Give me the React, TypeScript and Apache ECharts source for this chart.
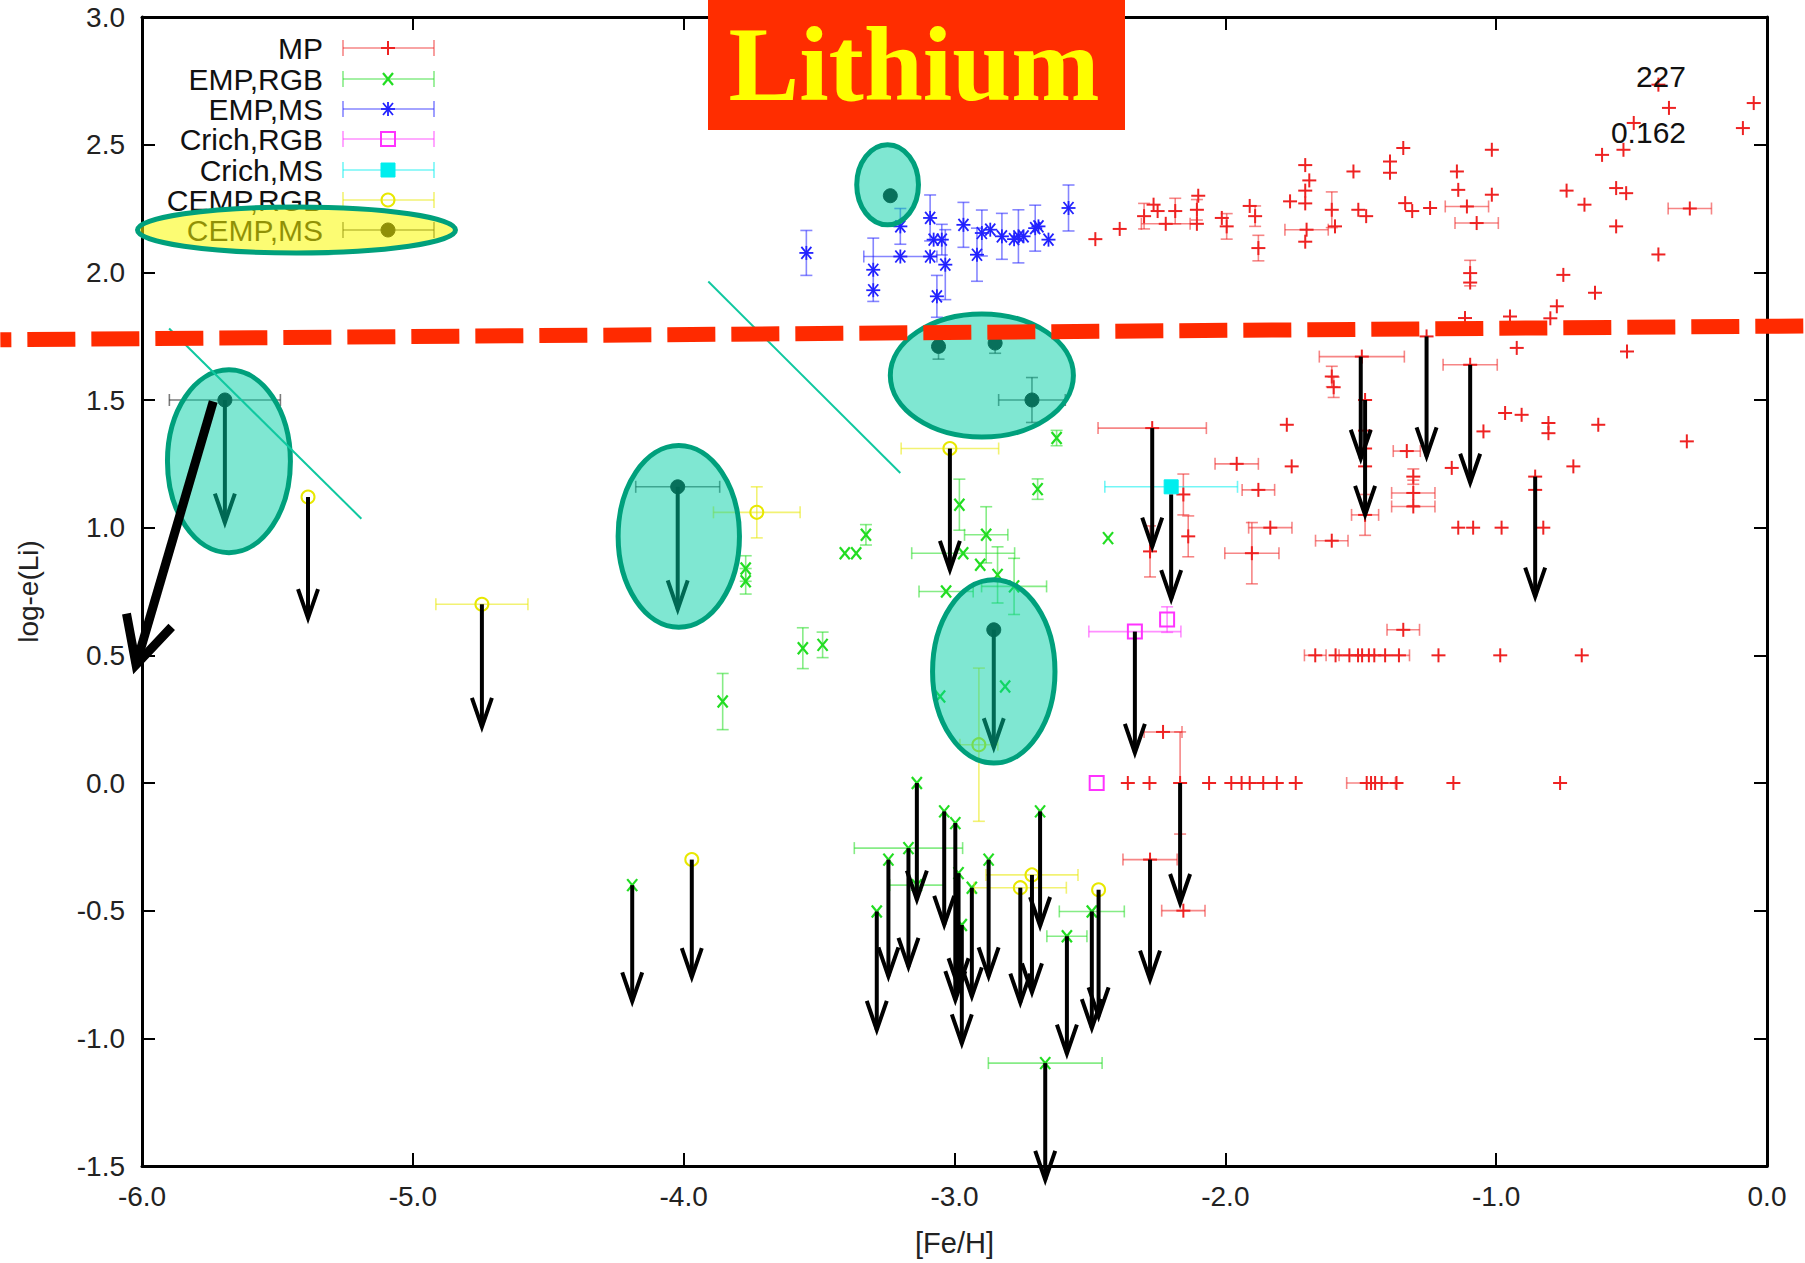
import React, { useEffect, useRef } from 'react';
import * as echarts from 'echarts';

// ---------- data ----------
const seriesNames = ['MP', 'EMP,RGB', 'EMP,MS', 'Crich,RGB', 'Crich,MS', 'CEMP,RGB', 'CEMP,MS'];
const seriesColors = ['#ee2222', '#22dd22', '#2222ff', '#ff33ff', '#00eeee', '#e8e800', '#111111'];
const seriesShapes = ['plus', 'cross', 'star', 'square', 'fsquare', 'circle', 'fcircle'];

const xTickValues = [-6, -5, -4, -3, -2, -1, 0];
const yTickValues = [-1.5, -1, -0.5, 0, 0.5, 1, 1.5, 2, 2.5, 3];

// [Fe/H], log-e(Li), xerr, yerr
const mpData = [
  [-2.48, 2.13, 0, 0], [-2.39, 2.17, 0, 0], [-2.30, 2.22, 0, 0.05], [-2.265, 2.265, 0, 0], [-2.25, 2.24, 0, 0],
  [-2.185, 2.24, 0, 0.05], [-2.22, 2.19, 0.09, 0], [-2.10, 2.30, 0, 0], [-2.105, 2.245, 0, 0.04], [-2.105, 2.19, 0, 0],
  [-2.013, 2.213, 0, 0], [-1.995, 2.18, 0, 0.05], [-1.91, 2.26, 0, 0], [-1.89, 2.22, 0, 0.04], [-1.878, 2.095, 0, 0.05],
  [-1.761, 2.278, 0, 0], [-1.705, 2.42, 0, 0], [-1.69, 2.36, 0, 0], [-1.705, 2.32, 0, 0], [-1.705, 2.27, 0, 0],
  [-1.70, 2.167, 0.08, 0], [-1.705, 2.12, 0, 0], [-1.607, 2.245, 0, 0.07], [-1.595, 2.18, 0, 0], [-1.527, 2.395, 0, 0],
  [-1.509, 2.245, 0, 0], [-1.48, 2.22, 0, 0], [-1.392, 2.434, 0, 0], [-1.392, 2.39, 0, 0], [-1.343, 2.487, 0, 0],
  [-1.336, 2.271, 0, 0], [-1.31, 2.24, 0, 0], [-1.244, 2.252, 0, 0], [-1.145, 2.395, 0, 0], [-1.14, 2.323, 0, 0],
  [-1.108, 2.258, 0.08, 0], [-1.072, 2.193, 0.08, 0], [-1.016, 2.48, 0, 0], [-1.016, 2.304, 0, 0], [-1.096, 1.997, 0, 0.05],
  [-1.096, 1.96, 0, 0], [-1.115, 1.821, 0, 0], [-0.949, 1.827, 0, 0], [-0.924, 1.704, 0, 0], [-0.776, 1.867, 0, 0],
  [-0.80, 1.82, 0, 0], [-0.752, 1.99, 0, 0], [-0.74, 2.32, 0, 0], [-0.674, 2.265, 0, 0], [-0.609, 2.46, 0, 0],
  [-0.53, 2.48, 0, 0], [-0.557, 2.33, 0, 0], [-0.52, 2.31, 0, 0], [-0.557, 2.18, 0, 0], [-0.492, 2.585, 0, 0],
  [-0.401, 2.735, 0, 0], [-0.362, 2.644, 0, 0], [-0.401, 2.07, 0, 0], [-0.285, 2.25, 0.08, 0], [-0.049, 2.663, 0, 0],
  [-0.089, 2.565, 0, 0], [-0.635, 1.92, 0, 0], [-0.517, 1.69, 0, 0], [-0.296, 1.338, 0, 0],
  [-1.496, 1.67, 0.157, 0], [-1.257, 1.749, 0, 0], [-1.096, 1.638, 0.1, 0], [-1.607, 1.592, 0, 0.04], [-1.60, 1.55, 0, 0.04],
  [-1.773, 1.403, 0, 0], [-1.755, 1.24, 0, 0], [-1.958, 1.25, 0.08, 0], [-1.878, 1.148, 0.06, 0], [-1.834, 1.0, 0.08, 0],
  [-1.902, 0.90, 0.10, 0.12], [-1.607, 0.949, 0.06, 0], [-1.484, 1.05, 0.05, 0.08], [-1.484, 1.50, 0, 0], [-1.484, 1.38, 0, 0],
  [-1.484, 1.31, 0, 0], [-1.484, 1.24, 0, 0], [-1.33, 1.30, 0.05, 0], [-1.306, 1.20, 0, 0.03], [-1.306, 1.136, 0.08, 0.05],
  [-1.306, 1.083, 0.08, 0], [-2.27, 1.39, 0.2, 0], [-2.155, 1.13, 0, 0.08], [-2.137, 0.966, 0, 0.08], [-2.278, 0.907, 0, 0.1],
  [-1.164, 1.234, 0, 0], [-1.047, 1.377, 0, 0], [-0.967, 1.449, 0, 0], [-0.906, 1.442, 0, 0], [-0.807, 1.41, 0, 0],
  [-0.807, 1.37, 0, 0], [-0.623, 1.403, 0, 0], [-0.715, 1.24, 0, 0], [-0.856, 1.20, 0, 0], [-0.856, 1.148, 0, 0],
  [-1.14, 1.0, 0, 0], [-1.085, 1.0, 0, 0], [-0.98, 1.0, 0, 0], [-0.826, 1.0, 0, 0],
  [-1.668, 0.5, 0.04, 0], [-1.593, 0.5, 0, 0], [-1.542, 0.5, 0, 0], [-1.51, 0.5, 0, 0], [-1.495, 0.5, 0, 0],
  [-1.47, 0.5, 0, 0], [-1.45, 0.5, 0.13, 0], [-1.41, 0.5, 0, 0], [-1.359, 0.5, 0, 0], [-1.213, 0.5, 0, 0],
  [-0.985, 0.5, 0, 0], [-0.684, 0.5, 0, 0], [-1.343, 0.60, 0.06, 0],
  [-2.36, 0, 0, 0], [-2.28, 0, 0, 0], [-2.167, 0, 0, 0.2], [-2.06, 0, 0, 0], [-1.978, 0, 0, 0],
  [-1.94, 0, 0, 0], [-1.91, 0, 0, 0], [-1.86, 0, 0, 0], [-1.81, 0, 0, 0], [-1.74, 0, 0, 0],
  [-1.478, 0, 0, 0], [-1.462, 0, 0.09, 0], [-1.447, 0, 0, 0], [-1.423, 0, 0, 0], [-1.368, 0, 0, 0],
  [-1.158, 0, 0, 0], [-0.764, 0, 0, 0],
  [-2.23, 0.20, 0.07, 0], [-2.278, -0.30, 0.1, 0], [-2.155, -0.50, 0.08, 0],
];

const empRgbData = [
  [-2.623, 1.351, 0, 0.03], [-2.693, 1.151, 0, 0.04], [-2.433, 0.959, 0, 0], [-3.327, 0.972, 0, 0.04],
  [-3.405, 0.90, 0, 0], [-3.363, 0.90, 0, 0], [-3.771, 0.84, 0, 0.05], [-3.771, 0.79, 0, 0.05],
  [-3.56, 0.528, 0, 0.08], [-3.487, 0.541, 0, 0.05], [-3.856, 0.319, 0, 0.11], [-2.982, 1.09, 0, 0.1],
  [-2.883, 0.972, 0.08, 0.11], [-2.968, 0.90, 0.19, 0], [-2.905, 0.855, 0, 0], [-2.841, 0.815, 0, 0.11],
  [-3.031, 0.75, 0.1, 0], [-2.78, 0.77, 0.12, 0.11], [-2.813, 0.378, 0, 0], [-3.053, 0.339, 0, 0],
  [-4.19, -0.40, 0, 0], [-3.139, 0.0, 0, 0], [-3.038, -0.111, 0, 0], [-2.997, -0.157, 0, 0],
  [-3.17, -0.255, 0.2, 0], [-3.244, -0.30, 0, 0], [-3.287, -0.503, 0, 0], [-2.985, -0.353, 0, 0],
  [-3.139, -0.40, 0.1, 0], [-2.973, -0.556, 0, 0], [-2.936, -0.41, 0, 0], [-2.874, -0.30, 0, 0],
  [-2.684, -0.111, 0, 0], [-2.585, -0.60, 0.074, 0], [-2.493, -0.503, 0.12, 0], [-2.665, -1.097, 0.21, 0],
];

const empMsData = [
  [-3.547, 2.076, 0, 0.088], [-3.30, 2.01, 0, 0.124], [-3.30, 1.93, 0, 0], [-3.20, 2.062, 0.135, 0],
  [-3.20, 2.18, 0, 0.07], [-3.09, 2.213, 0, 0.09], [-3.077, 2.128, 0, 0], [-3.09, 2.062, 0, 0],
  [-3.034, 2.03, 0, 0.137], [-3.065, 1.906, 0, 0.082], [-3.047, 2.128, 0, 0.06], [-2.967, 2.186, 0, 0.088],
  [-2.917, 2.069, 0, 0.104], [-2.899, 2.154, 0, 0.09], [-2.868, 2.167, 0, 0], [-2.825, 2.141, 0, 0.09],
  [-2.78, 2.13, 0, 0], [-2.764, 2.141, 0, 0.104], [-2.745, 2.141, 0, 0], [-2.702, 2.173, 0, 0.09],
  [-2.69, 2.18, 0, 0], [-2.653, 2.128, 0, 0], [-2.579, 2.252, 0, 0.09],
];

const crichRgbData = [[-2.334, 0.593, 0.17, 0], [-2.215, 0.64, 0, 0.05], [-2.475, 0.0, 0, 0]];
const crichMsData = [[-2.20, 1.16, 0.245, 0]];
const cempRgbData = [
  [-5.387, 1.12, 0, 0], [-4.745, 0.70, 0.17, 0], [-3.73, 1.06, 0.16, 0.1], [-3.97, -0.30, 0, 0],
  [-3.017, 1.31, 0.18, 0], [-2.91, 0.15, 0.07, 0.30], [-2.714, -0.36, 0.17, 0], [-2.757, -0.41, 0.17, 0],
  [-2.468, -0.418, 0, 0],
];
const cempMsData = [
  [-5.694, 1.50, 0.205, 0], [-4.022, 1.16, 0.155, 0], [-3.237, 2.30, 0, 0], [-3.059, 1.71, 0, 0.05],
  [-2.85, 1.723, 0, 0.04], [-2.714, 1.50, 0.123, 0.088], [-2.855, 0.60, 0, 0],
];

// upper limits: [Fe/H], from log-e(Li), to log-e(Li)
const upperLimits = [
  [-5.694, 1.50, 1.02], [-4.022, 1.16, 0.68], [-2.855, 0.60, 0.14],
  [-5.387, 1.12, 0.646], [-4.745, 0.70, 0.22], [-3.97, -0.30, -0.76], [-3.017, 1.31, 0.835],
  [-2.714, -0.36, -0.82], [-2.757, -0.41, -0.86], [-2.468, -0.418, -0.914],
  [-2.334, 0.593, 0.118], [-2.20, 1.13, 0.72],
  [-2.27, 1.39, 0.926], [-1.50, 1.67, 1.27], [-1.484, 1.50, 1.05], [-1.257, 1.749, 1.279],
  [-1.096, 1.638, 1.176], [-0.856, 1.20, 0.73], [-2.278, -0.30, -0.77], [-2.167, 0.0, -0.47],
  [-4.19, -0.40, -0.855], [-3.139, 0.0, -0.457], [-3.038, -0.111, -0.556], [-2.997, -0.157, -0.85],
  [-3.17, -0.255, -0.72], [-3.244, -0.30, -0.757], [-3.287, -0.503, -0.967], [-2.985, -0.353, -0.80],
  [-2.973, -0.556, -1.02], [-2.936, -0.41, -0.836], [-2.874, -0.30, -0.757], [-2.684, -0.111, -0.56],
  [-2.585, -0.60, -1.06], [-2.493, -0.503, -0.96], [-2.665, -1.097, -1.554],
];

// annotation ellipses in data units: cx, cy, rx, ry
const highlightEllipses = [
  [-5.679, 1.26, 0.227, 0.358],
  [-4.018, 0.966, 0.224, 0.356],
  [-3.247, 2.343, 0.114, 0.157],
  [-2.899, 1.596, 0.338, 0.241],
  [-2.855, 0.437, 0.226, 0.359],
];
// thin teal guide lines: x1, y1, x2, y2 in data units
const guideLines = [
  [-5.90, 1.78, -5.19, 1.035],
  [-3.909, 1.964, -3.20, 1.214],
];
const bigArrow = [-5.737, 1.494, -6.022, 0.463];
const dashedLine = [-6.523, 1.736, 0.14, 1.79];
const cornerTexts = ['227', '0.162'];

const seriesData = [mpData, empRgbData, empMsData, crichRgbData, crichMsData, cempRgbData, cempMsData];

const FONT = '"Liberation Sans", Arial, sans-serif';

function ln(x1: number, y1: number, x2: number, y2: number, stroke: string, w = 2, opacity = 1) {
  return { type: 'line', shape: { x1, y1, x2, y2 }, style: { stroke, lineWidth: w, opacity } };
}

function markerEls(shape: string, cx: number, cy: number, color: string): any[] {
  const s = 7;
  switch (shape) {
    case 'plus':
      return [ln(cx - s, cy, cx + s, cy, color, 2), ln(cx, cy - s, cx, cy + s, color, 2)];
    case 'cross':
      return [ln(cx - 5, cy - 6, cx + 5, cy + 6, color, 2.2), ln(cx - 5, cy + 6, cx + 5, cy - 6, color, 2.2)];
    case 'star':
      return [
        ln(cx - s, cy, cx + s, cy, color, 1.8), ln(cx, cy - s, cx, cy + s, color, 1.8),
        ln(cx - 5, cy - 6, cx + 5, cy + 6, color, 1.8), ln(cx - 5, cy + 6, cx + 5, cy - 6, color, 1.8),
      ];
    case 'square':
      return [{ type: 'rect', shape: { x: cx - 7, y: cy - 7, width: 14, height: 14 }, style: { fill: 'none', stroke: color, lineWidth: 2 } }];
    case 'fsquare':
      return [{ type: 'rect', shape: { x: cx - 7, y: cy - 7, width: 14, height: 14 }, style: { fill: color, stroke: color, lineWidth: 1 } }];
    case 'circle':
      return [{ type: 'circle', shape: { cx, cy, r: 6.5 }, style: { fill: 'none', stroke: color, lineWidth: 2 } }];
    case 'fcircle':
    default:
      return [{ type: 'circle', shape: { cx, cy, r: 7 }, style: { fill: color, stroke: color, lineWidth: 1 } }];
  }
}

function makeRenderItem(shape: string, color: string) {
  return (params: any, api: any) => {
    const x = api.value(0);
    const y = api.value(1);
    const xe = api.value(2);
    const ye = api.value(3);
    const p = api.coord([x, y]);
    const children: any[] = [];
    const op = 0.55;
    const cap = 6;
    if (xe > 0) {
      const a = api.coord([x - xe, y]);
      const b = api.coord([x + xe, y]);
      children.push(ln(a[0], p[1], b[0], p[1], color, 1.6, op));
      children.push(ln(a[0], p[1] - cap, a[0], p[1] + cap, color, 1.6, op));
      children.push(ln(b[0], p[1] - cap, b[0], p[1] + cap, color, 1.6, op));
    }
    if (ye > 0) {
      const a = api.coord([x, y - ye]);
      const b = api.coord([x, y + ye]);
      children.push(ln(p[0], a[1], p[0], b[1], color, 1.6, op));
      children.push(ln(p[0] - cap, a[1], p[0] + cap, a[1], color, 1.6, op));
      children.push(ln(p[0] - cap, b[1], p[0] + cap, b[1], color, 1.6, op));
    }
    children.push(...markerEls(shape, p[0], p[1], color));
    return { type: 'group', children };
  };
}

function arrowRender(params: any, api: any) {
  const x = api.value(0);
  const p0 = api.coord([x, api.value(1)]);
  const p1 = api.coord([x, api.value(2)]);
  return {
    type: 'group',
    children: [
      { type: 'line', shape: { x1: p0[0], y1: p0[1], x2: p1[0], y2: p1[1] }, style: { stroke: '#000', lineWidth: 4 } },
      {
        type: 'polyline',
        shape: { points: [[p1[0] - 10, p1[1] - 29], [p1[0], p1[1]], [p1[0] + 10, p1[1] - 29]] },
        style: { stroke: '#000', lineWidth: 4, fill: 'none', lineJoin: 'miter' },
      },
    ],
  };
}

export default function App() {
  const ref = useRef<HTMLDivElement>(null);
  useEffect(() => {
    if (!ref.current) return;
    const chart = echarts.init(ref.current, null, { renderer: 'svg' });
    const axisLineStyle = { color: '#000', width: 3 };
    const fmt = (v: number) => v.toFixed(1);
    const series: any[] = seriesNames.map((name, i) => ({
      name,
      type: 'custom',
      xAxisIndex: 0,
      yAxisIndex: 0,
      renderItem: makeRenderItem(seriesShapes[i], seriesColors[i]),
      data: seriesData[i],
      encode: { x: 0, y: 1 },
      z: 3 + i,
      clip: false,
    }));
    series.push({
      name: 'upper limits',
      type: 'custom',
      xAxisIndex: 0,
      yAxisIndex: 0,
      renderItem: arrowRender,
      data: upperLimits,
      encode: { x: 0, y: [1, 2] },
      z: 20,
      clip: false,
    });
    const option: any = {
      animation: false,
      backgroundColor: '#fff',
      grid: { left: 142, right: 38, top: 17, bottom: 97 },
      xAxis: [
        {
          type: 'value', min: -6, max: 0, interval: 1, position: 'bottom',
          name: '[Fe/H]', nameLocation: 'middle', nameGap: 62,
          nameTextStyle: { fontSize: 29, fontFamily: FONT, color: '#222' },
          axisLine: { show: true, onZero: false, lineStyle: axisLineStyle },
          axisTick: { show: true, inside: true, length: 13, lineStyle: { color: '#000', width: 2 } },
          axisLabel: { formatter: fmt, fontSize: 28, fontFamily: FONT, color: '#222', margin: 16 },
          splitLine: { show: false },
        },
        {
          type: 'value', min: -6, max: 0, interval: 1, position: 'top',
          axisLine: { show: true, onZero: false, lineStyle: axisLineStyle },
          axisTick: { show: true, inside: true, length: 13, lineStyle: { color: '#000', width: 2 } },
          axisLabel: { show: false },
          splitLine: { show: false },
        },
      ],
      yAxis: [
        {
          type: 'value', min: -1.5, max: 3, interval: 0.5, position: 'left',
          name: 'log-e(Li)', nameLocation: 'middle', nameGap: 100,
          nameTextStyle: { fontSize: 28, fontFamily: FONT, color: '#222' },
          axisLine: { show: true, onZero: false, lineStyle: axisLineStyle },
          axisTick: { show: true, inside: true, length: 13, lineStyle: { color: '#000', width: 2 } },
          axisLabel: { formatter: fmt, fontSize: 28, fontFamily: FONT, color: '#222', margin: 17 },
          splitLine: { show: false },
        },
        {
          type: 'value', min: -1.5, max: 3, interval: 0.5, position: 'right',
          axisLine: { show: true, onZero: false, lineStyle: axisLineStyle },
          axisTick: { show: true, inside: true, length: 13, lineStyle: { color: '#000', width: 2 } },
          axisLabel: { show: false },
          splitLine: { show: false },
        },
      ],
      series,
    };
    chart.setOption(option);

    const toPx = (x: number, y: number) => chart.convertToPixel({ xAxisIndex: 0, yAxisIndex: 0 }, [x, y]) as number[];
    const graphics: any[] = [];

    // legend
    const rowY = [48, 79, 109, 139, 170, 200, 230];
    seriesNames.forEach((name, i) => {
      const y = rowY[i];
      const c = seriesColors[i];
      graphics.push({
        type: 'text', x: 323, y, z: 50,
        style: { text: name, fontSize: 30, fontFamily: FONT, fill: '#111', align: 'right', verticalAlign: 'middle' },
      });
      graphics.push({ type: 'group', z: 50, children: [
        ln(343, y, 434, y, c, 1.6, 0.55),
        ln(343, y - 8, 343, y + 8, c, 1.6, 0.55),
        ln(434, y - 8, 434, y + 8, c, 1.6, 0.55),
        ...markerEls(seriesShapes[i], 388, y, c),
      ] });
    });
    // yellow highlight of the CEMP,MS legend entry
    graphics.push({
      type: 'ellipse', z: 60, shape: { cx: 296.5, cy: 230, rx: 159, ry: 23 },
      style: { fill: 'rgba(250,250,0,0.55)', stroke: '#00a07c', lineWidth: 5 },
    });

    // teal ellipses
    highlightEllipses.forEach(([cx, cy, rx, ry]) => {
      const c = toPx(cx, cy);
      const ex = toPx(cx + rx, cy);
      const ey = toPx(cx, cy + ry);
      graphics.push({
        type: 'ellipse', z: 100,
        shape: { cx: c[0], cy: c[1], rx: Math.abs(ex[0] - c[0]), ry: Math.abs(c[1] - ey[1]) },
        style: { fill: 'rgba(0,208,165,0.5)', stroke: '#00a07c', lineWidth: 5 },
      });
    });
    // teal guide lines
    guideLines.forEach(([x1, y1, x2, y2]) => {
      const a = toPx(x1, y1);
      const b = toPx(x2, y2);
      graphics.push({ type: 'line', z: 105, shape: { x1: a[0], y1: a[1], x2: b[0], y2: b[1] }, style: { stroke: '#10c8a0', lineWidth: 2 } });
    });
    // red dashed threshold line
    {
      const a = toPx(dashedLine[0], dashedLine[1]);
      const b = toPx(dashedLine[2], dashedLine[3]);
      graphics.push({
        type: 'line', z: 110, shape: { x1: a[0], y1: a[1], x2: b[0], y2: b[1] },
        style: { stroke: '#ff2a00', lineWidth: 15, lineDash: [48, 16], lineDashOffset: 37 },
      });
    }
    // big black arrow
    {
      const a = toPx(bigArrow[0], bigArrow[1]);
      const b = toPx(bigArrow[2], bigArrow[3]);
      const ang = Math.atan2(a[1] - b[1], a[0] - b[0]);
      const L = 52;
      const w1 = [b[0] + L * Math.cos(ang + 0.47), b[1] + L * Math.sin(ang + 0.47)];
      const w2 = [b[0] + L * Math.cos(ang - 0.47), b[1] + L * Math.sin(ang - 0.47)];
      graphics.push({ type: 'line', z: 115, shape: { x1: a[0], y1: a[1], x2: b[0], y2: b[1] }, style: { stroke: '#000', lineWidth: 9 } });
      graphics.push({ type: 'polyline', z: 115, shape: { points: [w1, b, w2] }, style: { stroke: '#000', lineWidth: 9, fill: 'none', lineJoin: 'miter' } });
    }
    // Lithium title box
    graphics.push({ type: 'rect', z: 120, shape: { x: 708, y: 0, width: 417, height: 130 }, style: { fill: '#ff2d00' } });
    graphics.push({
      type: 'text', z: 121, x: 914, y: 64,
      style: { text: 'Lithium', fontSize: 106, fontWeight: 'bold', fontFamily: '"Liberation Serif", "Times New Roman", serif', fill: '#ffff00', align: 'center', verticalAlign: 'middle' },
    });
    // corner numbers
    graphics.push({ type: 'text', z: 60, x: 1686, y: 76, style: { text: cornerTexts[0], fontSize: 30, fontFamily: FONT, fill: '#111', align: 'right', verticalAlign: 'middle' } });
    graphics.push({ type: 'text', z: 60, x: 1686, y: 132, style: { text: cornerTexts[1], fontSize: 30, fontFamily: FONT, fill: '#111', align: 'right', verticalAlign: 'middle' } });

    chart.setOption({ graphic: graphics });
    return () => chart.dispose();
  }, []);
  return (
    <div
      ref={ref}
      style={{ position: 'fixed', left: 0, top: 0, width: 1805, height: 1263, background: '#fff' }}
    />
  );
}
